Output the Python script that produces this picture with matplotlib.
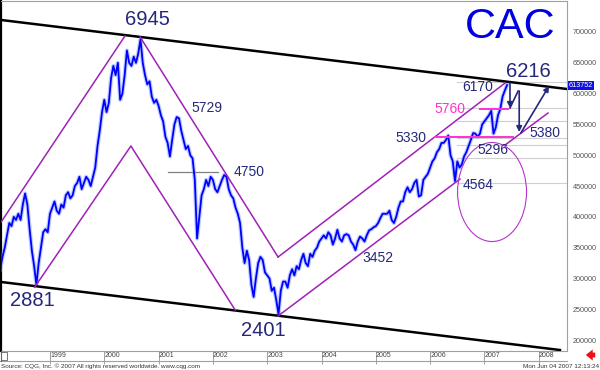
import numpy as np
import matplotlib
matplotlib.use('Agg')
import matplotlib.pyplot as plt
from matplotlib.patches import Ellipse, Rectangle
from matplotlib.lines import Line2D

plt.rcParams['font.family'] = ['Liberation Sans', 'DejaVu Sans']

# CAC 40, half-monthly closes (Feb 1998 .. Jun 2007)
cac_1998 = [3150, 3350, 3500, 3700, 3900, 3850, 4000, 3950, 4050, 3950, 4200, 4380,
            4200, 3800, 3450, 3200, 2900, 3250, 3500, 3750, 3800, 3750]
cac_1999 = [4050, 4150, 4250, 4100, 4050, 4200, 4150, 4350, 4400, 4300, 4350, 4500,
            4550, 4650, 4450, 4550, 4650, 4600, 4500, 4650, 4800, 5150, 5400, 5700]
cac_2000 = [5900, 5700, 5850, 6250, 6450, 6300, 6500, 5900, 6000, 6300, 6700, 6500,
            6450, 6600, 6500, 6650, 6880, 6500, 6300, 6150, 6200, 5950, 5850, 5900]
cac_2001 = [5800, 5650, 5550, 5300, 5200, 4980, 5250, 5500, 5620, 5600, 5400, 5250,
            5100, 5150, 5000, 4950, 4600, 3650, 4000, 4350, 4450, 4600, 4500, 4650]
cac_2002 = [4600, 4450, 4400, 4500, 4600, 4680, 4650, 4450, 4350, 4300, 4150, 4050,
            3900, 3500, 3250, 3450, 3300, 2900, 2700, 3000, 3250, 3350, 3300, 3100]
cac_2003 = [3050, 3000, 2800, 2850, 2650, 2420, 2800, 2950, 2950, 2850, 3050, 3150,
            3050, 3200, 3150, 3300, 3400, 3250, 3200, 3400, 3350, 3450, 3500, 3600]
cac_2004 = [3650, 3700, 3650, 3750, 3700, 3550, 3650, 3790, 3650, 3600, 3700, 3720,
            3700, 3600, 3550, 3460, 3600, 3680, 3650, 3600, 3700, 3780, 3800, 3830]
cac_2005 = [3850, 3900, 3980, 4050, 4050, 4050, 4100, 3950, 3900, 4000, 4150, 4250,
            4250, 4400, 4480, 4400, 4450, 4550, 4600, 4330, 4350, 4600, 4650, 4700]
cac_2006 = [4800, 4900, 4950, 5050, 5100, 5200, 5200, 5250, 5320, 5000, 4900, 4580,
            4900, 4800, 4850, 4980, 5050, 5150, 5250, 5360, 5350, 5300, 5350, 5500]
cac_2007 = [5550, 5600, 5650, 5720, 5350, 5450, 5650, 5750, 5950, 6050, 6140]
cac = cac_1998 + cac_1999 + cac_2000 + cac_2001 + cac_2002 + cac_2003 + \
      cac_2004 + cac_2005 + cac_2006 + cac_2007
t = 1998 + (2 + np.arange(len(cac))) / 24.0

last_price = 6137.52
years = list(range(1999, 2009))
price_ticks = [2000, 2500, 3000, 3500, 4000, 4500, 5000, 5500, 6000, 6500, 7000]

# hand drawn analysis lines (year, index level)
top_line = [(1998.10, 7195), (2008.52, 6075)]
bottom_line = [(1998.10, 2943), (2008.39, 1839)]
outer_left = [(1998.10, 3916), (2000.38, 6935)]
outer_right = [(2000.66, 6919), (2003.20, 3348)]
inner_wedge = [(1998.72, 2861), (2000.49, 5150), (2002.41, 2488)]
upper_channel = [(2003.20, 3348), (2007.38, 6172)]
lower_channel_a = [(2003.20, 2391), (2006.55, 4614)]
lower_channel_b = [(2007.38, 5166), (2008.17, 5685)]
pink_levels = [(5296, 2006.09, 2007.53), (5750, 2006.92, 2007.43)]
gray_mark = (4728, 2001.17, 2002.09)
gray_levels = [6188, 5766, 5555, 5280, 5166, 4955, 4549]
circle = (2007.14, 4403, 1.27, 1607)
arrows = [((2007.47, 6172), (2007.47, 5767)),
          ((2007.64, 6042), (2007.64, 5377)),
          ((2007.67, 5361), (2008.19, 6124))]
zigzag = [(2007.47, 5767), (2007.62, 6042)]

big_labels = [("6945", 2000.79, 7195), ("2881", 1998.67, 2650),
              ("2401", 2002.92, 2163), ("6216", 2007.80, 6367)]
small_labels = [("5729", 2001.89, 5767), ("4750", 2002.66, 4728),
                ("3452", 2005.04, 3332), ("5330", 2005.65, 5280),
                ("5296", 2007.16, 5085), ("5380", 2008.12, 5361),
                ("6170", 2006.88, 6107), ("4564", 2006.88, 4517)]
pink_label = ("5760", 2006.37, 5750)

NAVY = '#25287a'
PURPLE = '#a020b8'
PINK = '#ff30d0'

fig = plt.figure(figsize=(6, 3.7), dpi=100)
ax = fig.add_axes([1 / 600, 19 / 370, 566 / 600, 350 / 370])
ax.set_xlim(1998.098, 2008.52)
ax.set_ylim(1823, 7503)

# soft halo + core line, like the dense daily bars of the original
ax.plot(t, cac, color='#6f8cff', lw=3.0, alpha=0.45, zorder=3)
ax.plot(t, cac, color='#0000ff', lw=1.3, zorder=3)

for lvl in gray_levels:
    ax.plot([2006.5, 2008.52], [lvl, lvl], color='#cfcfcf', lw=0.8, zorder=1)
ax.plot([gray_mark[1], gray_mark[2]], [gray_mark[0]] * 2, color='#808080', lw=0.9, zorder=2)

for seg in (top_line, bottom_line):
    xs, ys = zip(*seg)
    ax.plot(xs, ys, color='black', lw=1.8, zorder=4)

for seg in (outer_left, outer_right, inner_wedge, upper_channel,
            lower_channel_a, lower_channel_b):
    xs, ys = zip(*seg)
    ax.plot(xs, ys, color=PURPLE, lw=1.1, zorder=4)

for lvl, x0, x1 in pink_levels:
    ax.plot([x0, x1], [lvl, lvl], color=PINK, lw=1.4, zorder=4)

cx, cy, cw, ch = circle
ax.add_patch(Ellipse((cx, cy), cw, ch, fill=False, edgecolor='#b535cc', lw=0.8, zorder=4))

xs, ys = zip(*zigzag)
ax.plot(xs, ys, color=NAVY, lw=1.2, zorder=5)
for start, end in arrows:
    ax.annotate('', xy=end, xytext=start,
                arrowprops=dict(arrowstyle='-|>', color=NAVY, lw=1.2,
                                mutation_scale=8, shrinkA=0, shrinkB=0), zorder=5)

for txt, x, y in big_labels:
    ax.text(x, y, txt, color=NAVY, fontsize=14.5, ha='center', va='center', zorder=6)
for txt, x, y in small_labels:
    ax.text(x, y, txt, color=NAVY, fontsize=10, ha='center', va='center', zorder=6)
ax.text(pink_label[1], pink_label[2], pink_label[0], color=PINK, fontsize=10,
        ha='center', va='center', zorder=6)
ax.text(2007.47, 7081, "CAC", color='#0000e0', fontsize=31, ha='center', va='center', zorder=6)

# axes frame
for side in ('top', 'right', 'bottom'):
    ax.spines[side].set_color('#a0a0a0')
    ax.spines[side].set_linewidth(0.8)
ax.spines['left'].set_color('black')
ax.spines['left'].set_linewidth(1.6)

ax.set_xticks(years)
ax.set_xticklabels([str(y) for y in years], fontsize=5, color='#444444')
ax.tick_params(axis='x', direction='out', length=9, width=0.6, color='#909090', pad=-8.5)
for lab in ax.get_xticklabels():
    lab.set_horizontalalignment('left')

ax.yaxis.tick_right()
ax.set_yticks(price_ticks)
ax.set_yticklabels([f"{p * 100:d}" for p in price_ticks], fontsize=5.2, color='#555555')
ax.tick_params(axis='y', length=0, pad=4)

ax.text(1.003, last_price, f"{last_price * 100:.0f}", transform=ax.get_yaxis_transform(),
        fontsize=5.2, color='white', ha='left', va='center',
        bbox=dict(boxstyle='square,pad=0.15', facecolor='#1010e0', edgecolor='none'))

# bottom date row frame
fig.add_artist(Line2D([0, 567 / 600], [9 / 370, 9 / 370], color='#a0a0a0', lw=0.8))
fig.add_artist(Line2D([0.5 / 600, 0.5 / 600], [9 / 370, 19 / 370], color='#606060', lw=0.8))
fig.add_artist(Rectangle((1 / 600, 10 / 370), 6 / 600, 8 / 370, fill=False,
                         edgecolor='#606060', lw=0.6, transform=fig.transFigure))

fig.text(1 / 600, 4 / 370, "Source: CQG, Inc. \u00a9 2007 All rights reserved worldwide. www.cqg.com",
         fontsize=4.6, color='#333333', ha='left', va='center')
fig.text(599 / 600, 4 / 370, "Mon Jun 04 2007 12:13:24", fontsize=4.6, color='#333333',
         ha='right', va='center')
ax.annotate('', xy=(583, 15), xytext=(598, 15), xycoords='figure pixels',
            textcoords='figure pixels',
            arrowprops=dict(arrowstyle='simple,head_length=0.5,head_width=0.8,tail_width=0.35',
                            color='#ee1010', lw=0))

fig.savefig('out.png', dpi=100, facecolor='white')
